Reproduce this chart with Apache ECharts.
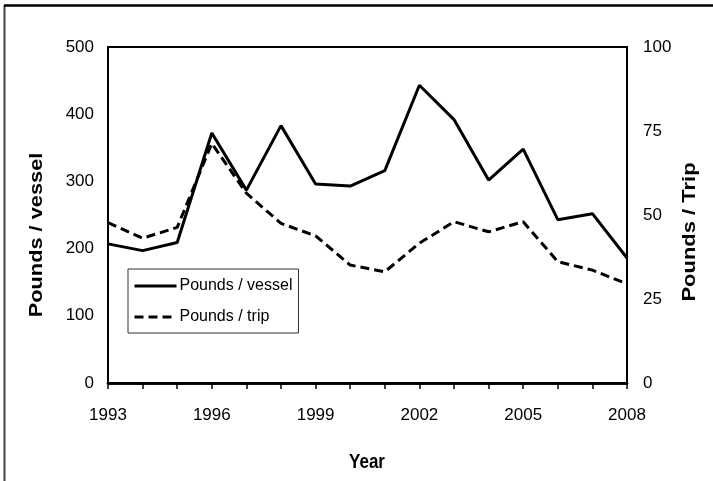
<!DOCTYPE html>
<html>
<head>
<meta charset="utf-8">
<script src="https://cdn.jsdelivr.net/npm/echarts@6/dist/echarts.min.js"></script>
<style>
  html, body { margin: 0; padding: 0; background: #fff; }
  #chart { width: 713px; height: 481px; }
</style>
</head>
<body>
<div id="chart"></div>
<script>
// values
const years = ['1993', '1994', '1995', '1996', '1997', '1998', '1999', '2000',
  '2001', '2002', '2003', '2004', '2005', '2006', '2007', '2008']
const poundsPerVessel = [207, 197, 209, 372, 287, 383, 296, 293, 316, 443, 392, 302, 348, 243, 252, 186]
const poundsPerTrip = [47.7, 43.1, 46.3, 71.3, 56.5, 47.5, 43.8, 35.1, 33.1, 41.6, 48.0, 45.0, 48.0, 36.1, 33.6, 29.5]
const vesselTicks = { min: 0, max: 500, interval: 100 }
const tripTicks = { min: 0, max: 100, interval: 25 }

const chart = echarts.init(document.getElementById('chart'))

const labelFont = {
  fontFamily: 'Liberation Sans',
  fontSize: 17,
  color: '#000'
}

// ticks cross the axis line in the original, so each axis is drawn twice
// (once with outward ticks and labels, once with inward ticks only)
const xBase = {
  type: 'category',
  data: years,
  boundaryGap: false,
  axisLine: { lineStyle: { color: '#000', width: 2.5 } },
  splitLine: { show: false }
}
const yBase = {
  type: 'value',
  splitLine: { show: false },
  axisLine: { show: true, lineStyle: { color: '#000', width: 2 } }
}

const option = {
  animation: false,
  grid: {
    left: 108,
    right: 86,
    top: 47,
    bottom: 98,
    show: true,
    borderColor: '#000',
    borderWidth: 2
  },
  legend: {
    orient: 'vertical',
    left: 128,
    top: 269,
    padding: [9, 6, 8, 5],
    itemGap: 15,
    itemWidth: 42,
    itemHeight: 18,
    backgroundColor: '#fff',
    borderColor: '#333',
    borderWidth: 1,
    borderRadius: 0,
    // hide the round marker ECharts puts on line legend icons
    itemStyle: { color: 'transparent', borderColor: 'transparent', borderWidth: 0 },
    lineStyle: { width: 3 },
    textStyle: {
      fontFamily: 'Liberation Sans',
      fontSize: 16,
      color: '#000',
      padding: [0, 0, 0, -2]
    },
    data: ['Pounds / vessel', 'Pounds / trip']
  },
  xAxis: [
    {
      ...xBase,
      axisTick: { interval: 0, length: 6, lineStyle: { color: '#000', width: 1.5 } },
      axisLabel: { ...labelFont, interval: 2, margin: 24 }
    },
    {
      ...xBase,
      axisTick: { interval: 0, inside: true, length: 6, lineStyle: { color: '#000', width: 1.5 } },
      axisLabel: { show: false }
    }
  ],
  yAxis: [
    {
      ...yBase,
      ...vesselTicks,
      position: 'left',
      axisTick: { length: 5, lineStyle: { color: '#000', width: 1.5 } },
      axisLabel: { ...labelFont, margin: 14 }
    },
    {
      ...yBase,
      ...tripTicks,
      position: 'right',
      axisTick: { length: 6, lineStyle: { color: '#000', width: 1.5 } },
      axisLabel: { ...labelFont, margin: 16 }
    },
    {
      ...yBase,
      ...vesselTicks,
      position: 'left',
      axisTick: { inside: true, length: 5, lineStyle: { color: '#000', width: 1.5 } },
      axisLabel: { show: false }
    },
    {
      ...yBase,
      ...tripTicks,
      position: 'right',
      axisTick: { inside: true, length: 6, lineStyle: { color: '#000', width: 1.5 } },
      axisLabel: { show: false }
    }
  ],
  series: [
    {
      name: 'Pounds / vessel',
      type: 'line',
      yAxisIndex: 0,
      data: poundsPerVessel,
      symbol: 'none',
      itemStyle: { color: '#000' },
      lineStyle: { color: '#000', width: 3 },
      z: 3
    },
    {
      name: 'Pounds / trip',
      type: 'line',
      yAxisIndex: 1,
      data: poundsPerTrip,
      symbol: 'none',
      itemStyle: { color: '#000' },
      lineStyle: { color: '#000', width: 3, type: [9, 5] },
      z: 2
    }
  ],
  graphic: [
    // outer frame of the figure (only left and top edges are in view)
    {
      type: 'line',
      shape: { x1: 4.5, y1: 5, x2: 4.5, y2: 481 },
      style: { stroke: '#444', lineWidth: 2 }
    },
    {
      type: 'line',
      shape: { x1: 4, y1: 5.5, x2: 713, y2: 5.5 },
      style: { stroke: '#000', lineWidth: 2.5 }
    },
    // axis names, stretched along their length like the original
    {
      type: 'text',
      x: 37,
      y: 235,
      rotation: Math.PI / 2,
      scaleX: 1.21,
      style: {
        text: 'Pounds / vessel',
        fontFamily: 'Liberation Sans',
        fontWeight: 'bold',
        fontSize: 18,
        fill: '#000',
        align: 'center',
        verticalAlign: 'middle'
      }
    },
    {
      type: 'text',
      x: 690,
      y: 232,
      rotation: Math.PI / 2,
      scaleX: 1.22,
      style: {
        text: 'Pounds / Trip',
        fontFamily: 'Liberation Sans',
        fontWeight: 'bold',
        fontSize: 18,
        fill: '#000',
        align: 'center',
        verticalAlign: 'middle'
      }
    },
    {
      type: 'text',
      x: 367,
      y: 462,
      scaleY: 1.2,
      style: {
        text: 'Year',
        fontFamily: 'Liberation Sans',
        fontWeight: 'bold',
        fontSize: 17,
        fill: '#000',
        align: 'center',
        verticalAlign: 'middle'
      }
    }
  ]
}

chart.setOption(option)
</script>
</body>
</html>
